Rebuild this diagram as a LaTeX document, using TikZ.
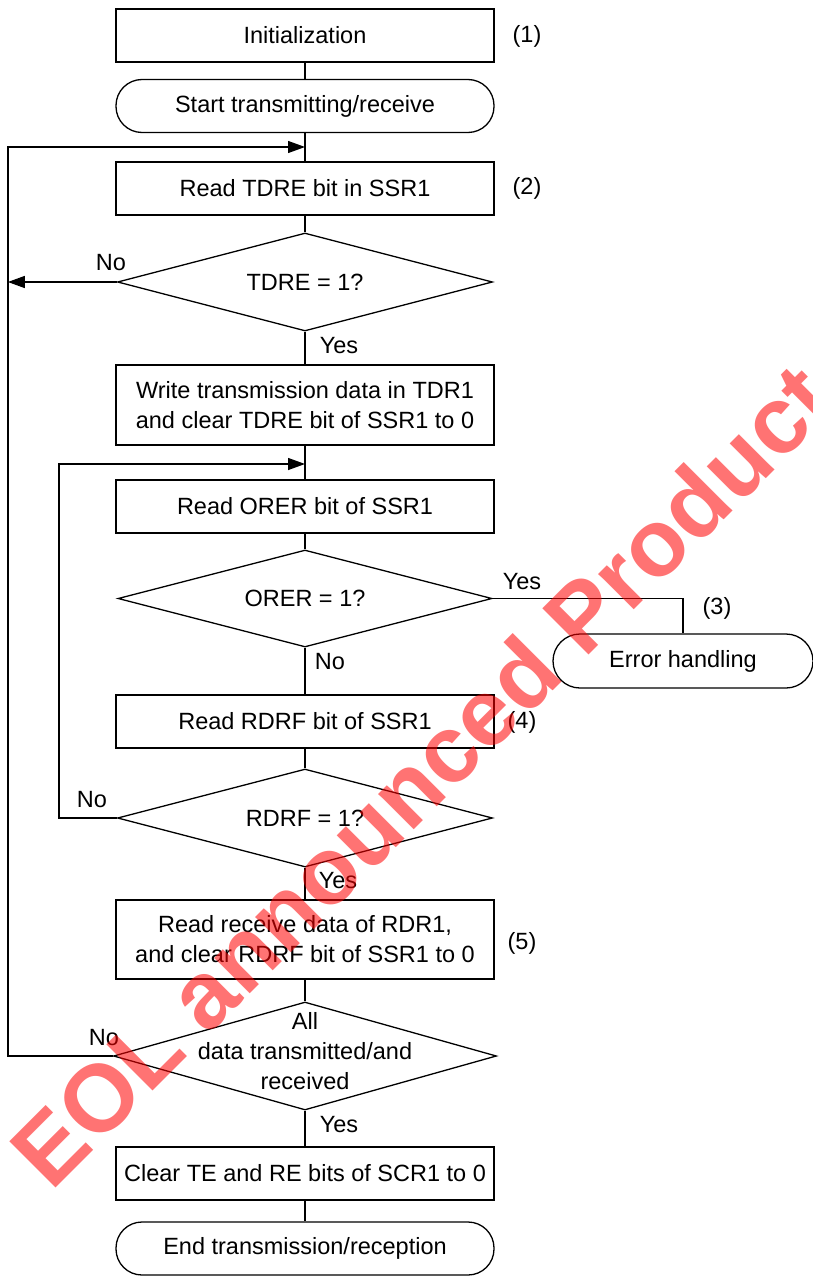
\documentclass[tikz,border=0pt]{standalone}
\usepackage{fontspec}
\setmainfont{Liberation Sans}
\usetikzlibrary{shapes.geometric,arrows.meta}
\newcommand{\ctext}[1]{\smash{\makebox[0pt]{\raisebox{-0.36em}{\begin{tabular}{@{}c@{}}#1\end{tabular}}}}}
\begin{document}
\begin{tikzpicture}[x=1pt,y=-1pt,
  font=\fontsize{23.5}{30}\selectfont,
  line width=1.3pt,
  box/.style={draw, rectangle, minimum width=378, minimum height=53, inner sep=0pt, align=center},
  term/.style={draw, rectangle, rounded corners=26, minimum width=378, minimum height=53, inner sep=0pt},
  dia/.style={draw, diamond, inner sep=0pt},
  lbl/.style={inner sep=0pt},
  arr/.style={-{Triangle[length=17pt,width=12pt]}}]
\useasboundingbox (0,0) rectangle (812,1276);

\node[box] (init) at (305,35.5) {Initialization};
\node[lbl] (n1) at (527,36) {(1)};
\node[term] (start) at (305,106) {Start transmitting/receive};
\coordinate (j1) at (305,147);
\node[box] (rtdre) at (305,188.5) {Read TDRE bit in SSR1};
\node[lbl] (n2) at (527,188) {(2)};
\node[dia, minimum width=375, minimum height=98] (dtdre) at (305,282) {\ctext{TDRE = 1?}};
\node[box, minimum height=80] (write) at (305,405) {Write transmission data in TDR1\\and clear TDRE bit of SSR1 to 0};
\coordinate (j2) at (305,464);
\node[box] (rorer) at (305,506.5) {Read ORER bit of SSR1};
\node[dia, minimum width=374, minimum height=97] (dorer) at (305,598.5) {\ctext{ORER = 1?}};
\node[term, minimum width=260, minimum height=54, rounded corners=27] (err) at (683,661) {Error handling};
\node[lbl] (n3) at (717,608) {(3)};
\node[box] (rrdrf) at (305,721.5) {Read RDRF bit of SSR1};
\node[lbl] (n4) at (522,722) {(4)};
\node[dia, minimum width=375, minimum height=98] (drdrf) at (305,818) {\ctext{RDRF = 1?}};
\node[box, minimum height=79] (rrecv) at (305,939.5) {Read receive data of RDR1,\\and clear RDRF bit of SSR1 to 0};
\node[lbl] (n5) at (522,943) {(5)};
\node[dia, minimum width=383, minimum height=108] (dall) at (305,1056) {\raisebox{9pt}{\ctext{All\\data transmitted/and\\received}}};
\node[box] (clear) at (305,1173.5) {Clear TE and RE bits of SCR1 to 0};
\node[term] (end) at (305,1248.5) {End transmission/reception};

% connectors
\draw (init) -- (start);
\draw (start) -- (rtdre);
\draw (rtdre) -- (dtdre);
\draw (dtdre) -- (write);
\draw (write) -- (rorer);
\draw (rorer) -- (dorer);
\draw (dorer) -- (rrdrf);
\draw (rrdrf) -- (drdrf);
\draw (drdrf) -- (rrecv);
\draw (rrecv) -- (dall);
\draw (dall) -- (clear);
\draw (clear) -- (end);
\draw[arr] (dtdre.west) -- ++(-109,0);
\draw[arr] (dall.west) -- ++(-105,0) |- (j1);
\draw[arr] (drdrf.west) -- ++(-58,0) |- (j2);
\draw (dorer.east) -| (err.north);

% labels
\node[lbl] (l1) at (111,263) {No};
\node[lbl] (l2) at (339,346) {Yes};
\node[lbl] (l3) at (522,582) {Yes};
\node[lbl] (l4) at (330,662) {No};
\node[lbl] (l5) at (92,800) {No};
\node[lbl] (l6) at (338,881) {Yes};
\node[lbl] (l7) at (104,1038) {No};
\node[lbl] (l8) at (339,1125) {Yes};

% watermark
\node[rotate=45, text=red, text opacity=0.55, font=\fontsize{95}{100}\selectfont\bfseries] (wm) at (421,775) {EOL announced Product};
\end{tikzpicture}
\end{document}
